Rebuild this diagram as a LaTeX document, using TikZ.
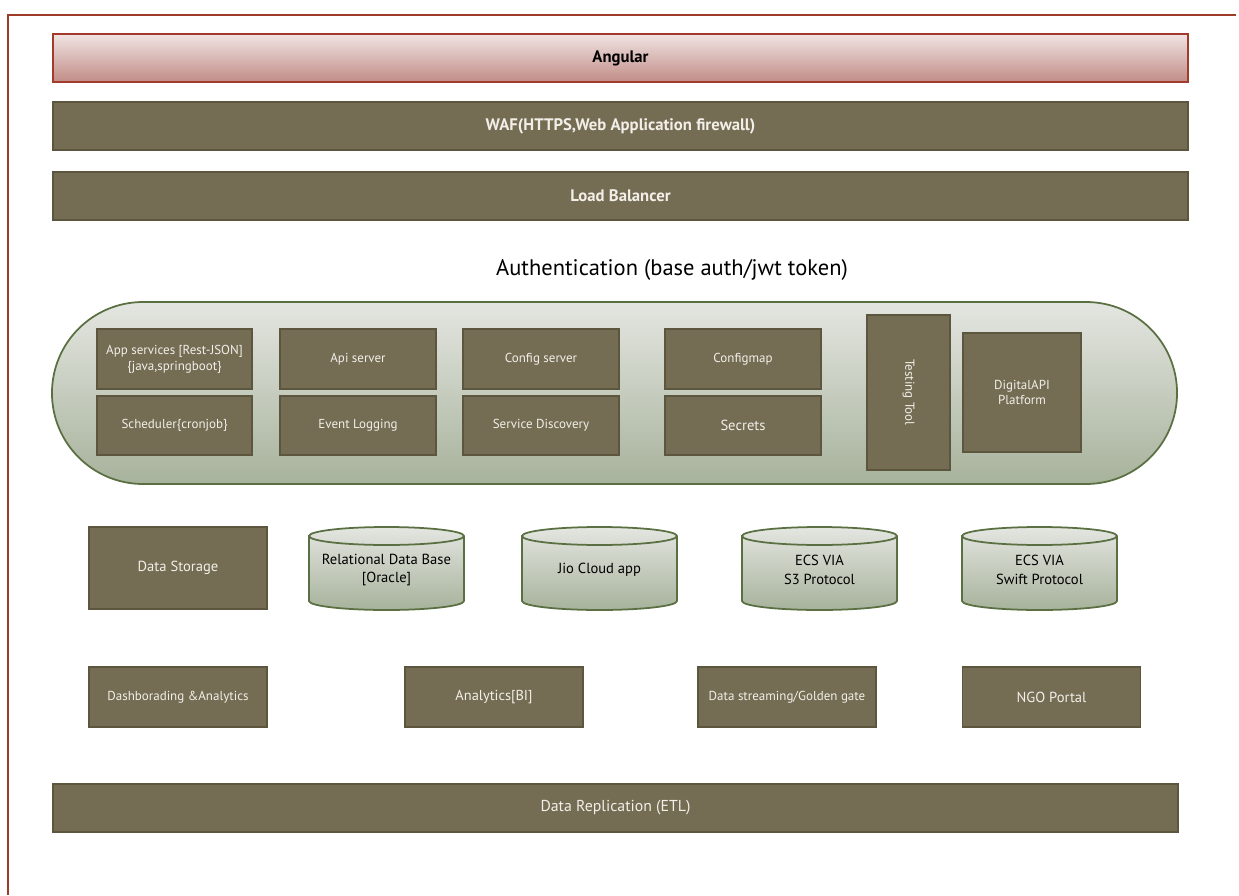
\documentclass[tikz,border=0pt]{standalone}
\usepackage{fontspec}
\setmainfont{PT Sans}
\usepackage{xcolor}
\usetikzlibrary{shapes.misc}
\definecolor{barfill}{HTML}{756C54}
\definecolor{barline}{HTML}{5C563F}
\definecolor{boxtext}{HTML}{F2EFE8}
\definecolor{angtop}{HTML}{F0E4E3}
\definecolor{angbot}{HTML}{C18C86}
\definecolor{angline}{HTML}{A23B2C}
\definecolor{pilltop}{HTML}{E4E6E1}
\definecolor{pillbot}{HTML}{A7B29B}
\definecolor{pillline}{HTML}{5B7042}
\definecolor{frameline}{HTML}{9E3B28}
\newcommand{\smallbox}{\fontsize{7.4}{9}\selectfont}
\newcommand{\midbox}{\fontsize{8.3}{10.5}\selectfont}
% database drum: name, left x, text
\newcommand{\dbcyl}[3]{%
  \draw[draw=pillline,line width=1pt,top color=pilltop,bottom color=pillbot]
    (#2,536) -- (#2,601) arc[start angle=180,end angle=360,x radius=1.55cm,y radius=0.18cm]
    -- ({#2+155},536) arc[start angle=0,end angle=180,x radius=1.55cm,y radius=0.18cm] -- cycle;
  \draw[draw=pillline,line width=1pt] (#2,536) arc[start angle=180,end angle=360,x radius=1.55cm,y radius=0.18cm];
  \node[align=center,font=\midbox,text=black,inner sep=0pt] (#1) at ({#2+77.5},570) {#3};}
\tikzset{
  layerbar/.style={draw=barline,line width=0.8pt,fill=barfill,text=boxtext,inner sep=0pt,
    font=\bfseries\fontsize{9.5}{11}\selectfont,minimum width=22.7cm,minimum height=0.96cm},
  svcbox/.style={draw=barline,line width=0.8pt,fill=barfill,text=boxtext,inner sep=1pt,align=center,
    font=\smallbox},
}

\begin{document}
\begin{tikzpicture}[x=0.02cm,y=-0.02cm]
  \useasboundingbox (0,0) rectangle (1239,895);
  \draw[frameline,line width=1pt] (1236,15) -- (8,15) -- (8,895);
  \node[layerbar,draw=angline,top color=angtop,bottom color=angbot,text=black] (angular) at (620.5,58) {Angular};
  \node[layerbar] (waf) at (620.5,126) {WAF(HTTPS,Web Application firewall)};
  \node[layerbar] (lb) at (620.5,196) {Load Balancer};
  \node[font=\fontsize{12.8}{15}\selectfont] (auth) at (672,270) {Authentication (base auth/jwt token)};
  \node[draw=pillline,line width=1pt,rounded rectangle,top color=pilltop,bottom color=pillbot,
        minimum width=22.74cm,minimum height=3.64cm] (platform) at (614.5,393) {};
  \node[svcbox,minimum width=3.1cm,minimum height=1.2cm] (appsvc) at (174.5,359) {App services [Rest-JSON]\\\{java,springboot\}};
  \node[svcbox,minimum width=3.1cm,minimum height=1.18cm] (sched) at (174.5,425.5) {Scheduler\{cronjob\}};
  \node[svcbox,minimum width=3.12cm,minimum height=1.2cm] (api) at (358,359) {Api server};
  \node[svcbox,minimum width=3.12cm,minimum height=1.18cm] (events) at (358,425.5) {Event Logging};
  \node[svcbox,minimum width=3.12cm,minimum height=1.2cm] (config) at (541,359) {Config server};
  \node[svcbox,minimum width=3.12cm,minimum height=1.18cm] (discovery) at (541,425.5) {Service Discovery};
  \node[svcbox,minimum width=3.12cm,minimum height=1.2cm] (configmap) at (743,359) {Configmap};
  \node[svcbox,font=\midbox,minimum width=3.12cm,minimum height=1.18cm] (secrets) at (743,425.5) {Secrets};
  \node[svcbox,rotate=-90,minimum width=3.1cm,minimum height=1.66cm] (testing) at (908.5,392.5) {Testing Tool};
  \node[svcbox,minimum width=2.36cm,minimum height=2.38cm] (digital) at (1022,392.5) {DigitalAPI\\Platform};
  \node[svcbox,font=\midbox,minimum width=3.56cm,minimum height=1.64cm] (storage) at (178,568) {Data Storage};
  \dbcyl{oracle}{309}{Relational Data Base\\{}[Oracle]}
  \dbcyl{jio}{522}{Jio Cloud app}
  \dbcyl{ecss3}{742}{ECS VIA\\S3 Protocol}
  \dbcyl{ecsswift}{962}{ECS VIA\\Swift Protocol}
  \node[svcbox,minimum width=3.56cm,minimum height=1.2cm] (dash) at (178,697) {Dashborading \&Analytics};
  \node[svcbox,font=\fontsize{8.2}{10}\selectfont,minimum width=3.56cm,minimum height=1.2cm] (bi) at (494,697) {Analytics[BI]};
  \node[svcbox,minimum width=3.56cm,minimum height=1.2cm] (stream) at (787,697) {Data streaming/Golden gate};
  \node[svcbox,font=\midbox,minimum width=3.56cm,minimum height=1.2cm] (ngo) at (1051.5,697) {NGO Portal};
  \node[svcbox,font=\fontsize{9}{11}\selectfont,minimum width=22.5cm,minimum height=0.96cm] (etl) at (615.5,808) {Data Replication (ETL)};
\end{tikzpicture}
\end{document}
